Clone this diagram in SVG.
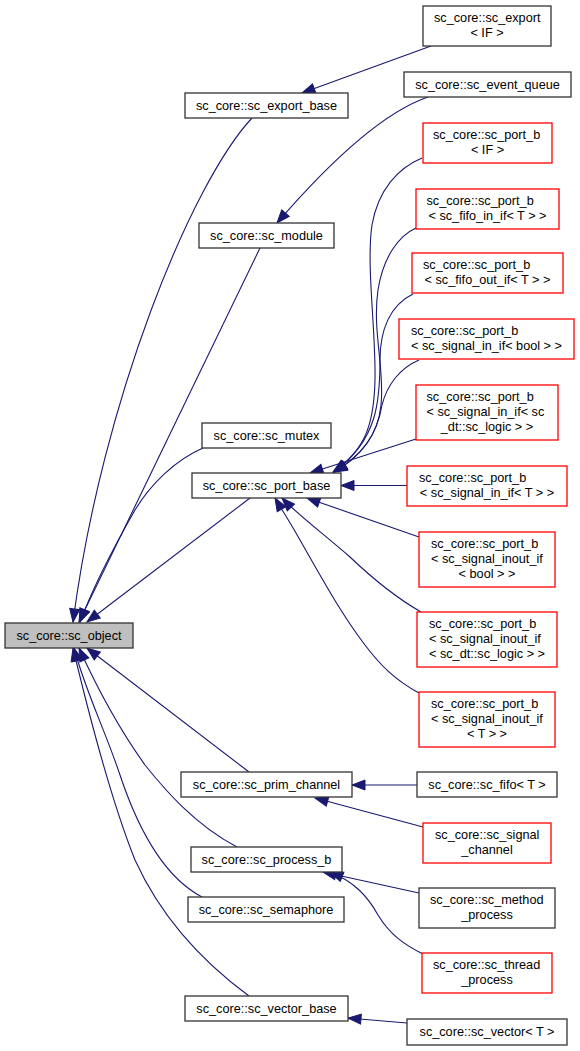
<svg xmlns="http://www.w3.org/2000/svg" width="580" height="1051" viewBox="0 0 580 1051">
<style>
.n rect{fill:#ffffff;stroke:#333333;stroke-width:1.3}
.r rect{stroke:#ff0000}
.root rect{fill:#bfbfbf}
text{font-family:"Liberation Sans",Arial,Helvetica,sans-serif;font-size:12.7px;fill:#000}
.c{text-anchor:middle}
.e path{fill:none;stroke:#191970;stroke-width:1.1;marker-end:url(#a)}
</style>
<defs>
<marker id="a" markerUnits="userSpaceOnUse" markerWidth="15" markerHeight="11" refX="13" refY="5" orient="auto" overflow="visible">
<path d="M0,0 L13,5 L0,10 z" fill="#191970" stroke="#191970" stroke-width="1"/>
</marker>
</defs>
<rect width="580" height="1051" fill="#ffffff"/>

<g class="e" id="edges">
<path d="M431,46 L302,93"/>
<path d="M428,97 C390,110 340,150 277,223"/>
<path d="M252,118 C192,182 102,400 73,622"/>
<path d="M260,248 L79,622"/>
<path d="M203,448 C175,460 150,485 135,510 C115,545 92,590 80,622"/>
<path d="M250,498 L87,622"/>
<path d="M249,772 L87,648"/>
<path d="M237,847 C195,825 165,790 145,765 C120,730 98,690 79,648"/>
<path d="M202,897 C160,875 135,820 120,775 C105,730 85,690 74,648"/>
<path d="M249,996 C200,960 160,915 135,860 C115,810 95,740 73,648"/>
<path d="M422,158 C398,168 378,190 372,225 C366,265 376,330 375,380 C374,425 365,450 333,472"/>
<path d="M416,228 C398,236 383,258 378,290 C372,330 385,370 381,405 C378,435 362,455 334,472"/>
<path d="M413,294 C390,305 380,330 380,360 C380,400 378,440 334,472"/>
<path d="M419,360 C400,368 387,385 382,405 C378,430 365,455 334,472"/>
<path d="M416,439 L310,473"/>
<path d="M407,485.5 L341,485.5"/>
<path d="M419,537 L307,498"/>
<path d="M421,612 C395,597 372,578 350,557 C325,535 298,515 282,498"/>
<path d="M419,693 C395,680 380,665 365,645 C340,612 320,575 300,540 C290,522 282,510 275,498"/>
<path d="M417,785 L352,785"/>
<path d="M423,827 L315,798"/>
<path d="M419,893 L323,872"/>
<path d="M423,954 C405,945 390,935 378,915 C368,897 355,882 330,872"/>
<path d="M407,1023 L348,1018"/>
</g>

<g id="sc_object" class="n root"><rect x="5" y="623" width="128" height="25"/><text class="c" x="69" y="639.5">sc_core::sc_object</text></g>
<g id="sc_export_base" class="n"><rect x="185" y="93" width="163" height="25"/><text class="c" x="266.5" y="109.5">sc_core::sc_export_base</text></g>
<g id="sc_module" class="n"><rect x="199" y="223" width="135" height="25"/><text class="c" x="266.5" y="239.5">sc_core::sc_module</text></g>
<g id="sc_mutex" class="n"><rect x="202" y="423" width="129" height="25"/><text class="c" x="266.5" y="439.5">sc_core::sc_mutex</text></g>
<g id="sc_port_base" class="n"><rect x="192" y="473" width="149" height="25"/><text class="c" x="266.5" y="489.5">sc_core::sc_port_base</text></g>
<g id="sc_prim_channel" class="n"><rect x="181" y="772" width="171" height="25"/><text class="c" x="266.5" y="788.5">sc_core::sc_prim_channel</text></g>
<g id="sc_process_b" class="n"><rect x="191" y="847" width="151" height="25"/><text class="c" x="266.5" y="863.5">sc_core::sc_process_b</text></g>
<g id="sc_semaphore" class="n"><rect x="188" y="897" width="156" height="25"/><text class="c" x="266" y="913.5">sc_core::sc_semaphore</text></g>
<g id="sc_vector_base" class="n"><rect x="185" y="996" width="163" height="25"/><text class="c" x="266.5" y="1012.5">sc_core::sc_vector_base</text></g>

<g id="sc_export_IF" class="n"><rect x="423" y="6" width="128" height="40"/><text x="434" y="22">sc_core::sc_export</text><text class="c" x="487" y="37">&lt; IF &gt;</text></g>
<g id="sc_event_queue" class="n"><rect x="404" y="72" width="167" height="25"/><text class="c" x="487.5" y="88.5">sc_core::sc_event_queue</text></g>
<g id="sc_port_b_IF" class="n r"><rect x="423" y="123" width="129" height="40"/><text x="433" y="139">sc_core::sc_port_b</text><text class="c" x="487.5" y="154">&lt; IF &gt;</text></g>
<g id="sc_port_b_fifo_in" class="n r"><rect x="416" y="189" width="143" height="40"/><text x="426.5" y="205">sc_core::sc_port_b</text><text class="c" x="487.5" y="220">&lt; sc_fifo_in_if&lt; T &gt; &gt;</text></g>
<g id="sc_port_b_fifo_out" class="n r"><rect x="412" y="253" width="151" height="40"/><text x="423" y="269">sc_core::sc_port_b</text><text class="c" x="487.5" y="284">&lt; sc_fifo_out_if&lt; T &gt; &gt;</text></g>
<g id="sc_port_b_signal_in_bool" class="n r"><rect x="399" y="319" width="175" height="40"/><text x="411" y="335">sc_core::sc_port_b</text><text class="c" x="486.5" y="350">&lt; sc_signal_in_if&lt; bool &gt; &gt;</text></g>
<g id="sc_port_b_signal_in_logic" class="n r"><rect x="416" y="385" width="142" height="55"/><text x="426.5" y="401">sc_core::sc_port_b</text><text x="426.5" y="416">&lt; sc_signal_in_if&lt; sc</text><text class="c" x="487" y="431">_dt::sc_logic &gt; &gt;</text></g>
<g id="sc_port_b_signal_in_T" class="n r"><rect x="407" y="466" width="160" height="40"/><text x="419" y="482">sc_core::sc_port_b</text><text class="c" x="487" y="497">&lt; sc_signal_in_if&lt; T &gt; &gt;</text></g>
<g id="sc_port_b_inout_bool" class="n r"><rect x="419" y="532" width="136" height="55"/><text x="431" y="548">sc_core::sc_port_b</text><text x="431" y="563">&lt; sc_signal_inout_if</text><text class="c" x="487" y="578">&lt; bool &gt; &gt;</text></g>
<g id="sc_port_b_inout_logic" class="n r"><rect x="417" y="612" width="140" height="55"/><text x="429" y="628">sc_core::sc_port_b</text><text x="429" y="643">&lt; sc_signal_inout_if</text><text class="c" x="487" y="658">&lt; sc_dt::sc_logic &gt; &gt;</text></g>
<g id="sc_port_b_inout_T" class="n r"><rect x="419" y="692" width="136" height="55"/><text x="431" y="708">sc_core::sc_port_b</text><text x="431" y="723">&lt; sc_signal_inout_if</text><text class="c" x="487" y="738">&lt; T &gt; &gt;</text></g>
<g id="sc_fifo_T" class="n"><rect x="417" y="772" width="140" height="25"/><text class="c" x="487" y="788.5">sc_core::sc_fifo&lt; T &gt;</text></g>
<g id="sc_signal_channel" class="n r"><rect x="423" y="823" width="128" height="40"/><text x="435" y="839">sc_core::sc_signal</text><text class="c" x="487" y="854">_channel</text></g>
<g id="sc_method_process" class="n"><rect x="419" y="888" width="136" height="40"/><text x="430" y="904">sc_core::sc_method</text><text class="c" x="487" y="919">_process</text></g>
<g id="sc_thread_process" class="n r"><rect x="422" y="953" width="130" height="40"/><text x="433" y="969">sc_core::sc_thread</text><text class="c" x="487" y="984">_process</text></g>
<g id="sc_vector_T" class="n"><rect x="407" y="1019" width="160" height="26"/><text class="c" x="487" y="1036">sc_core::sc_vector&lt; T &gt;</text></g>
</svg>
